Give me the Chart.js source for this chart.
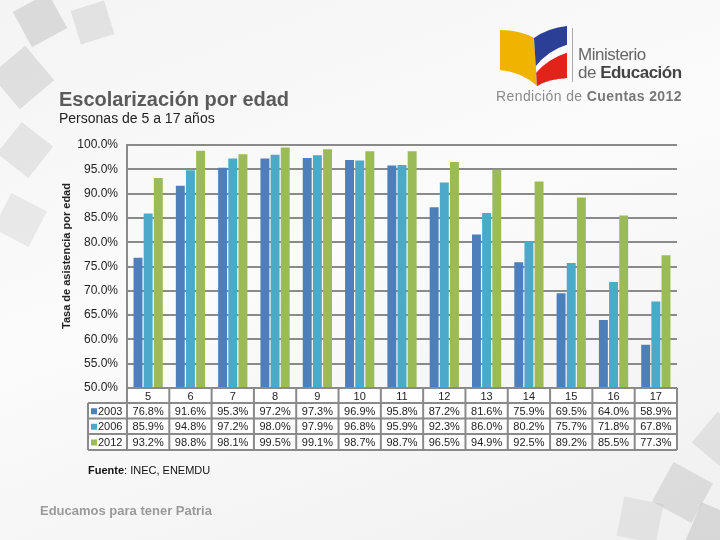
<!DOCTYPE html>
<html>
<head>
<meta charset="utf-8">
<script src="https://cdn.jsdelivr.net/npm/chart.js@4"></script>
<style>
  html, body { margin: 0; padding: 0; }
  body {
    width: 720px; height: 540px; overflow: hidden; position: relative;
    background: linear-gradient(160deg, #f4f4f4 0%, #fbfbfb 45%, #f0f0f0 100%);
    font-family: "Liberation Sans", Arial, sans-serif;
  }
  #wrap { position: absolute; left: 0; top: 0; width: 720px; height: 540px; }
  .txt { position: absolute; white-space: nowrap; z-index: 2; line-height: 1; }
</style>
</head>
<body>
<div id="wrap"><canvas id="chart" width="720" height="540"></canvas></div>

<div class="txt" style="left:59px; top:89px; font-size:20px; font-weight:bold; color:#5a5a5a;">Escolarización por edad</div>
<div class="txt" style="left:59px; top:111px; font-size:14px; color:#222;">Personas de 5 a 17 años</div>
<div class="txt" style="left:578px; top:46px; font-size:17px; color:#666; letter-spacing:-0.5px;">Ministerio</div>
<div class="txt" style="left:578px; top:64px; font-size:17px; color:#666; letter-spacing:-0.5px;">de <b style="color:#444;">Educación</b></div>
<div class="txt" style="left:496px; top:89px; font-size:14px; color:#8a8a8a; letter-spacing:0.4px;">Rendición de <b style="color:#777;">Cuentas 2012</b></div>
<div class="txt" style="left:-20px; top:250px; width:174px; text-align:center; font-size:11px; font-weight:bold; color:#222; transform:rotate(-90deg); transform-origin:87px 6px;">Tasa de asistencia por edad</div>
<div class="txt" style="left:88px; top:465px; font-size:11px; color:#111;"><b>Fuente</b>: INEC, ENEMDU</div>
<div class="txt" style="left:40px; top:504px; font-size:13px; font-weight:bold; color:#9a9a9a;">Educamos para tener Patria</div>

<script>
// Escolarizacion por edad - datos
var ages = ["5", "6", "7", "8", "9", "10", "11", "12", "13", "14", "15", "16", "17"];
var years = ["2003", "2006", "2012"];
var y2003 = [76.8, 91.6, 95.3, 97.2, 97.3, 96.9, 95.8, 87.2, 81.6, 75.9, 69.5, 64.0, 58.9];
var y2006 = [85.9, 94.8, 97.2, 98.0, 97.9, 96.8, 95.9, 92.3, 86.0, 80.2, 75.7, 71.8, 67.8];
var y2012 = [93.2, 98.8, 98.1, 99.5, 99.1, 98.7, 98.7, 96.5, 94.9, 92.5, 89.2, 85.5, 77.3];
var colors = ["#4f7fba", "#4aaac8", "#9bbb59"];

var series = [y2003, y2006, y2012];

// fondo decorativo + logo
var decoPlugin = {
  id: "deco",
  beforeDraw: function (chart) {
    var c = chart.ctx;
    c.save();
    // cuadros grises arriba a la izquierda
    var tl = [[20, 0, 40, 0.35, -0.5], [75, 5, 35, 0.25, -0.3], [0, 55, 45, 0.3, -0.7], [5, 130, 40, 0.25, -0.9], [0, 200, 40, 0.2, -1.1]];
    tl.forEach(function (r) {
      c.save();
      c.translate(r[0] + r[2] / 2, r[1] + r[2] / 2);
      c.rotate(r[4]);
      c.fillStyle = "rgba(170,170,170," + r[3] + ")";
      c.fillRect(-r[2] / 2, -r[2] / 2, r[2], r[2]);
      c.restore();
    });
    // cuadros grises abajo a la derecha
    var br = [[660, 470, 45, 0.3, 0.5], [700, 420, 40, 0.25, 0.7], [690, 510, 50, 0.35, 0.4], [620, 500, 40, 0.2, 0.2]];
    br.forEach(function (r) {
      c.save();
      c.translate(r[0] + r[2] / 2, r[1] + r[2] / 2);
      c.rotate(r[4]);
      c.fillStyle = "rgba(170,170,170," + r[3] + ")";
      c.fillRect(-r[2] / 2, -r[2] / 2, r[2], r[2]);
      c.restore();
    });

    // logo: pagina amarilla
    c.fillStyle = "#f0b400";
    c.beginPath();
    c.moveTo(500, 30);
    c.quadraticCurveTo(520, 30, 534, 38);
    c.lineTo(537, 86);
    c.quadraticCurveTo(522, 72, 500, 70);
    c.closePath();
    c.fill();
    // pagina derecha azul / rojo
    c.save();
    c.beginPath();
    c.moveTo(534, 38);
    c.quadraticCurveTo(548, 28, 567, 26);
    c.lineTo(567, 78);
    c.quadraticCurveTo(548, 79, 537, 86);
    c.closePath();
    c.clip();
    c.fillStyle = "#2a3f95";
    c.fillRect(530, 20, 40, 70);
    c.fillStyle = "#ffffff";
    c.beginPath();
    c.moveTo(530, 74); c.quadraticCurveTo(545, 50, 570, 44); c.lineTo(570, 90); c.lineTo(530, 90);
    c.fill();
    c.fillStyle = "#e2231a";
    c.beginPath();
    c.moveTo(530, 80); c.quadraticCurveTo(546, 58, 570, 52); c.lineTo(570, 90); c.lineTo(530, 90);
    c.fill();
    c.restore();
    c.strokeStyle = "#aaaaaa";
    c.lineWidth = 1;
    c.beginPath();
    c.moveTo(572.5, 28); c.lineTo(572.5, 82);
    c.stroke();
    c.restore();
  }
};

// tabla de datos debajo del grafico
var tablePlugin = {
  id: "datatable",
  afterDraw: function (chart) {
    var c = chart.ctx;
    var x = chart.scales.x;
    var area = chart.chartArea;
    var left = area.left, right = area.right;
    var top = area.bottom;
    var legLeft = 88;
    var rowTops = [top, top + 15, top + 30.5, top + 46, top + 62];
    var colW = (right - left) / ages.length;
    c.save();
    // fondo de celdas
    c.fillStyle = "rgba(255,255,255,0.85)";
    c.fillRect(left, rowTops[0], right - left, rowTops[1] - rowTops[0]);
    c.fillRect(legLeft, rowTops[1], right - legLeft, rowTops[4] - rowTops[1]);
    c.strokeStyle = "#8a8a8a";
    c.lineWidth = 2;
    c.beginPath();
    // lineas horizontales
    c.moveTo(left, rowTops[0]); c.lineTo(right, rowTops[0]);
    for (var r = 1; r < rowTops.length; r++) {
      c.moveTo(legLeft, rowTops[r]); c.lineTo(right, rowTops[r]);
    }
    // lineas verticales
    c.moveTo(legLeft, rowTops[1]); c.lineTo(legLeft, rowTops[4]);
    for (var i = 0; i <= ages.length; i++) {
      var vx = left + i * colW;
      c.moveTo(vx, rowTops[0]); c.lineTo(vx, rowTops[4]);
    }
    c.stroke();

    c.font = "11px 'Liberation Sans', Arial, sans-serif";
    c.fillStyle = "#222";
    c.textAlign = "center";
    c.textBaseline = "middle";
    for (var i = 0; i < ages.length; i++) {
      c.fillText(ages[i], x.getPixelForTick(i), (rowTops[0] + rowTops[1]) / 2 + 1);
    }
    for (var s = 0; s < years.length; s++) {
      var cy = (rowTops[s + 1] + rowTops[s + 2]) / 2 + 1;
      c.fillStyle = colors[s];
      c.fillRect(legLeft + 3, cy - 3.5, 6, 6);
      c.fillStyle = "#222";
      c.textAlign = "left";
      c.fillText(years[s], legLeft + 10, cy);
      c.textAlign = "center";
      for (var i = 0; i < ages.length; i++) {
        c.fillText(series[s][i].toFixed(1) + "%", x.getPixelForTick(i), cy);
      }
    }
    c.restore();
  }
};

var ctx = document.getElementById("chart").getContext("2d");
var chart = new Chart(ctx, {
  type: "bar",
  data: {
    labels: ages,
    datasets: [
      { label: years[0], data: y2003, backgroundColor: colors[0] },
      { label: years[1], data: y2006, backgroundColor: colors[1] },
      { label: years[2], data: y2012, backgroundColor: colors[2] }
    ]
  },
  options: {
    responsive: false,
    animation: false,
    events: [],
    layout: {
      padding: { left: 0, top: 145, right: 43, bottom: 152 }
    },
    datasets: {
      bar: { categoryPercentage: 0.72, barPercentage: 0.88 }
    },
    scales: {
      x: { display: false },
      y: {
        min: 50,
        max: 100,
        afterFit: function (s) { s.width = 127; },
        ticks: {
          stepSize: 5,
          padding: 9,
          color: "#222",
          font: { family: "'Liberation Sans', Arial, sans-serif", size: 12 },
          callback: function (v) { return v.toFixed(1) + "%"; }
        },
        grid: { color: "#8a8a8a", lineWidth: 2, drawTicks: false },
        border: { display: true, color: "#8a8a8a", width: 2 }
      }
    },
    plugins: {
      legend: { display: false },
      title: { display: false },
      tooltip: { enabled: false }
    }
  },
  plugins: [decoPlugin, tablePlugin]
});
</script>
</body>
</html>
